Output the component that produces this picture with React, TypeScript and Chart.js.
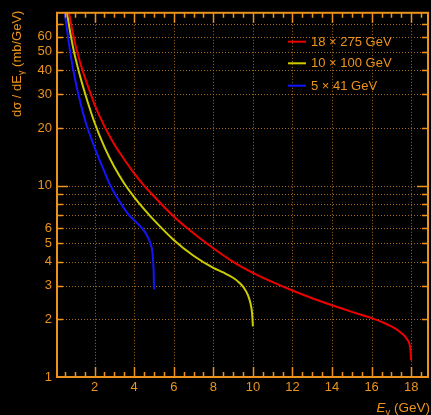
import React, { useEffect, useRef } from 'react';
import { Chart, registerables } from 'chart.js';

Chart.register(...registerables);

const seriesLabels = ['18 × 275 GeV', '10 × 100 GeV', '5 × 41 GeV'];
const seriesColors = ['#ee0000', '#cccc00', '#1414ff'];

const redX = [0.62, 0.71, 0.81, 0.94, 1.12, 1.39, 1.81, 2.0, 2.5, 3.0, 3.5, 4.0, 4.5, 5.0, 6.0, 7.0, 8.0, 9.0, 10, 11, 12, 13, 14, 15, 16, 16.5, 17, 17.5, 17.8, 17.95, 18];
const redY = [92, 80, 70, 60, 50, 40, 30, 26.5, 20.4, 16.4, 13.7, 11.6, 10.0, 8.8, 6.9, 5.64, 4.71, 4.0, 3.5, 3.13, 2.83, 2.58, 2.37, 2.19, 2.03, 1.94, 1.84, 1.7, 1.57, 1.42, 1.22];

const yellowX = [0.5, 0.6, 0.7, 0.82, 0.96, 1.19, 1.53, 2.0, 2.5, 3.0, 3.5, 4.0, 4.5, 5.0, 6.0, 7.0, 8.0, 8.5, 9.0, 9.3, 9.55, 9.75, 9.88, 9.96, 10];
const yellowY = [98, 81, 69.5, 59, 50, 40, 30, 21.3, 15.9, 12.5, 10.26, 8.7, 7.53, 6.6, 5.2, 4.3, 3.72, 3.52, 3.3, 3.12, 2.92, 2.68, 2.42, 2.15, 1.84];

const blueX = [0.42, 0.5, 0.6, 0.7, 0.8, 1.0, 1.2, 1.5, 2.0, 2.5, 2.8, 3.05, 3.35, 3.72, 4.0, 4.39, 4.6, 4.82, 4.92, 4.96, 4.99, 5.0];
const blueY = [95, 79, 65.8, 55.5, 47.5, 36.5, 29.5, 22.3, 15.8, 11.8, 10.0, 9.0, 8.0, 7.05, 6.6, 6.0, 5.6, 5.0, 4.5, 4.0, 3.4, 2.87];

const xTickValues = [2, 4, 6, 8, 10, 12, 14, 16, 18];
const yTickValues = [1, 2, 3, 4, 5, 6, 10, 20, 30, 40, 50, 60];
const yGridValues = [2, 3, 4, 5, 6, 7, 8, 9, 10, 20, 30, 40, 50, 60, 70];
const yMinorTickValues = [2, 3, 4, 5, 6, 7, 8, 9, 20, 30, 40, 50, 60, 70];
const yMajorTickValues = [10];

const X_MIN = 0.1;
const X_MAX = 18.85;
const Y_MIN = 1;
const Y_MAX = 80;

const ORANGE = '#ec931d';
const GRID = '#a86a16';
const FONT = '"Liberation Sans", Arial, sans-serif';

const toPoints = (xs: number[], ys: number[]) => xs.map((x, i) => ({ x, y: ys[i] }));

const framePlugin = {
  id: 'frameDecor',
  beforeDraw(chart: any) {
    const { ctx, width, height } = chart;
    ctx.save();
    ctx.fillStyle = '#000000';
    ctx.fillRect(0, 0, width, height);
    ctx.restore();
  },
  beforeDatasetsDraw(chart: any) {
    const { ctx, chartArea, scales } = chart;
    const xs = scales.x;
    const ys = scales.y;
    ctx.save();
    ctx.strokeStyle = GRID;
    ctx.lineWidth = 1;
    ctx.setLineDash([1, 2]);
    xTickValues.forEach((v) => {
      const px = Math.round(xs.getPixelForValue(v)) + 0.5;
      ctx.beginPath();
      ctx.moveTo(px, chartArea.top);
      ctx.lineTo(px, chartArea.bottom);
      ctx.stroke();
    });
    yGridValues.forEach((v) => {
      const py = Math.round(ys.getPixelForValue(v)) + 0.5;
      ctx.beginPath();
      ctx.moveTo(chartArea.left, py);
      ctx.lineTo(chartArea.right, py);
      ctx.stroke();
    });
    ctx.restore();
  },
  afterDatasetsDraw(chart: any) {
    const { ctx, chartArea, scales } = chart;
    const xs = scales.x;
    const ys = scales.y;
    const { left, right, top, bottom } = chartArea;
    ctx.save();
    ctx.strokeStyle = ORANGE;
    ctx.lineWidth = 1.5;
    for (let v = 0.5; v < X_MAX; v += 0.5) {
      const major = xTickValues.includes(v);
      const len = major ? 10 : 5;
      const px = Math.round(xs.getPixelForValue(v)) + 0.5;
      ctx.beginPath();
      ctx.moveTo(px, bottom);
      ctx.lineTo(px, bottom - len);
      ctx.moveTo(px, top);
      ctx.lineTo(px, top + len);
      ctx.stroke();
    }
    const yTick = (v: number, len: number) => {
      const py = Math.round(ys.getPixelForValue(v)) + 0.5;
      ctx.beginPath();
      ctx.moveTo(left, py);
      ctx.lineTo(left + len, py);
      ctx.moveTo(right, py);
      ctx.lineTo(right - len, py);
      ctx.stroke();
    };
    yMinorTickValues.forEach((v) => yTick(v, 6));
    yMajorTickValues.forEach((v) => yTick(v, 11));
    ctx.lineWidth = 2;
    ctx.strokeRect(left, top, right - left, bottom - top);

    // legend
    ctx.font = `13px ${FONT}`;
    ctx.textBaseline = 'middle';
    ctx.textAlign = 'left';
    const legendY = [41.7, 63.3, 85.7];
    chart.data.datasets.forEach((ds: any, i: number) => {
      ctx.strokeStyle = ds.borderColor;
      ctx.lineWidth = 2;
      ctx.beginPath();
      ctx.moveTo(288, legendY[i]);
      ctx.lineTo(306, legendY[i]);
      ctx.stroke();
      ctx.fillStyle = ORANGE;
      ctx.fillText(ds.label, 311, legendY[i] + 0.5);
    });

    // y title (rotated)
    ctx.fillStyle = ORANGE;
    ctx.textBaseline = 'alphabetic';
    ctx.save();
    ctx.translate(20.5, 117);
    ctx.rotate(-Math.PI / 2);
    let cx = 0;
    ctx.font = `13px ${FONT}`;
    const p1 = 'dσ / dE';
    ctx.fillText(p1, cx, 0);
    cx += ctx.measureText(p1).width;
    ctx.font = `9px ${FONT}`;
    ctx.fillText('γ', cx, 3);
    cx += ctx.measureText('γ').width;
    ctx.font = `13px ${FONT}`;
    ctx.fillText(' (mb/GeV)', cx, 0);
    ctx.restore();

    // x title
    const f1 = `italic 13.5px ${FONT}`;
    const f2 = `9.5px ${FONT}`;
    const f3 = `13.5px ${FONT}`;
    ctx.font = f1;
    const w1 = ctx.measureText('E').width;
    ctx.font = f2;
    const w2 = ctx.measureText('γ').width;
    ctx.font = f3;
    const w3 = ctx.measureText(' (GeV)').width;
    let sx = 430 - (w1 + w2 + w3);
    const by = 411.5;
    ctx.font = f1;
    ctx.fillText('E', sx, by);
    sx += w1;
    ctx.font = f2;
    ctx.fillText('γ', sx, by + 3);
    sx += w2;
    ctx.font = f3;
    ctx.fillText(' (GeV)', sx, by);
    ctx.restore();
  },
};

export default function App() {
  const canvasRef = useRef<HTMLCanvasElement | null>(null);

  useEffect(() => {
    document.body.style.margin = '0';
    document.body.style.background = '#000';
    const canvas = canvasRef.current;
    if (!canvas) return;
    const datasets = [
      { label: seriesLabels[0], data: toPoints(redX, redY), borderColor: seriesColors[0] },
      { label: seriesLabels[1], data: toPoints(yellowX, yellowY), borderColor: seriesColors[1] },
      { label: seriesLabels[2], data: toPoints(blueX, blueY), borderColor: seriesColors[2] },
    ].map((d) => ({
      ...d,
      borderWidth: 2,
      pointRadius: 0,
      fill: false,
      cubicInterpolationMode: 'monotone' as const,
      clip: 0,
    }));

    const chart = new Chart(canvas, {
      type: 'line',
      data: { datasets },
      options: {
        animation: false,
        responsive: false,
        devicePixelRatio: 1,
        parsing: false as any,
        layout: { padding: { top: 5, right: 3, left: 0, bottom: 0 } },
        plugins: { legend: { display: false }, tooltip: { enabled: false } },
        scales: {
          x: {
            type: 'linear',
            min: X_MIN,
            max: X_MAX,
            grid: { display: false, drawTicks: false },
            border: { display: false },
            afterBuildTicks: (scale: any) => {
              scale.ticks = xTickValues.map((v) => ({ value: v }));
            },
            afterFit: (scale: any) => {
              scale.height = 38;
            },
            ticks: {
              color: ORANGE,
              font: { family: FONT, size: 13 },
              padding: 3,
              maxRotation: 0,
              autoSkip: false,
              callback: (v: any) => String(v),
            },
          },
          y: {
            type: 'logarithmic',
            min: Y_MIN,
            max: Y_MAX,
            grid: { display: false, drawTicks: false },
            border: { display: false },
            afterBuildTicks: (scale: any) => {
              scale.ticks = yTickValues.map((v) => ({ value: v }));
            },
            afterFit: (scale: any) => {
              scale.width = 57;
            },
            ticks: {
              color: ORANGE,
              font: { family: FONT, size: 13 },
              padding: 5,
              autoSkip: false,
              callback: (v: any) => String(v),
            },
          },
        },
      },
      plugins: [framePlugin],
    });
    return () => chart.destroy();
  }, []);

  return (
    <div style={{ width: 431, height: 415, background: '#000' }}>
      <canvas ref={canvasRef} width={431} height={415} style={{ display: 'block' }} />
    </div>
  );
}
